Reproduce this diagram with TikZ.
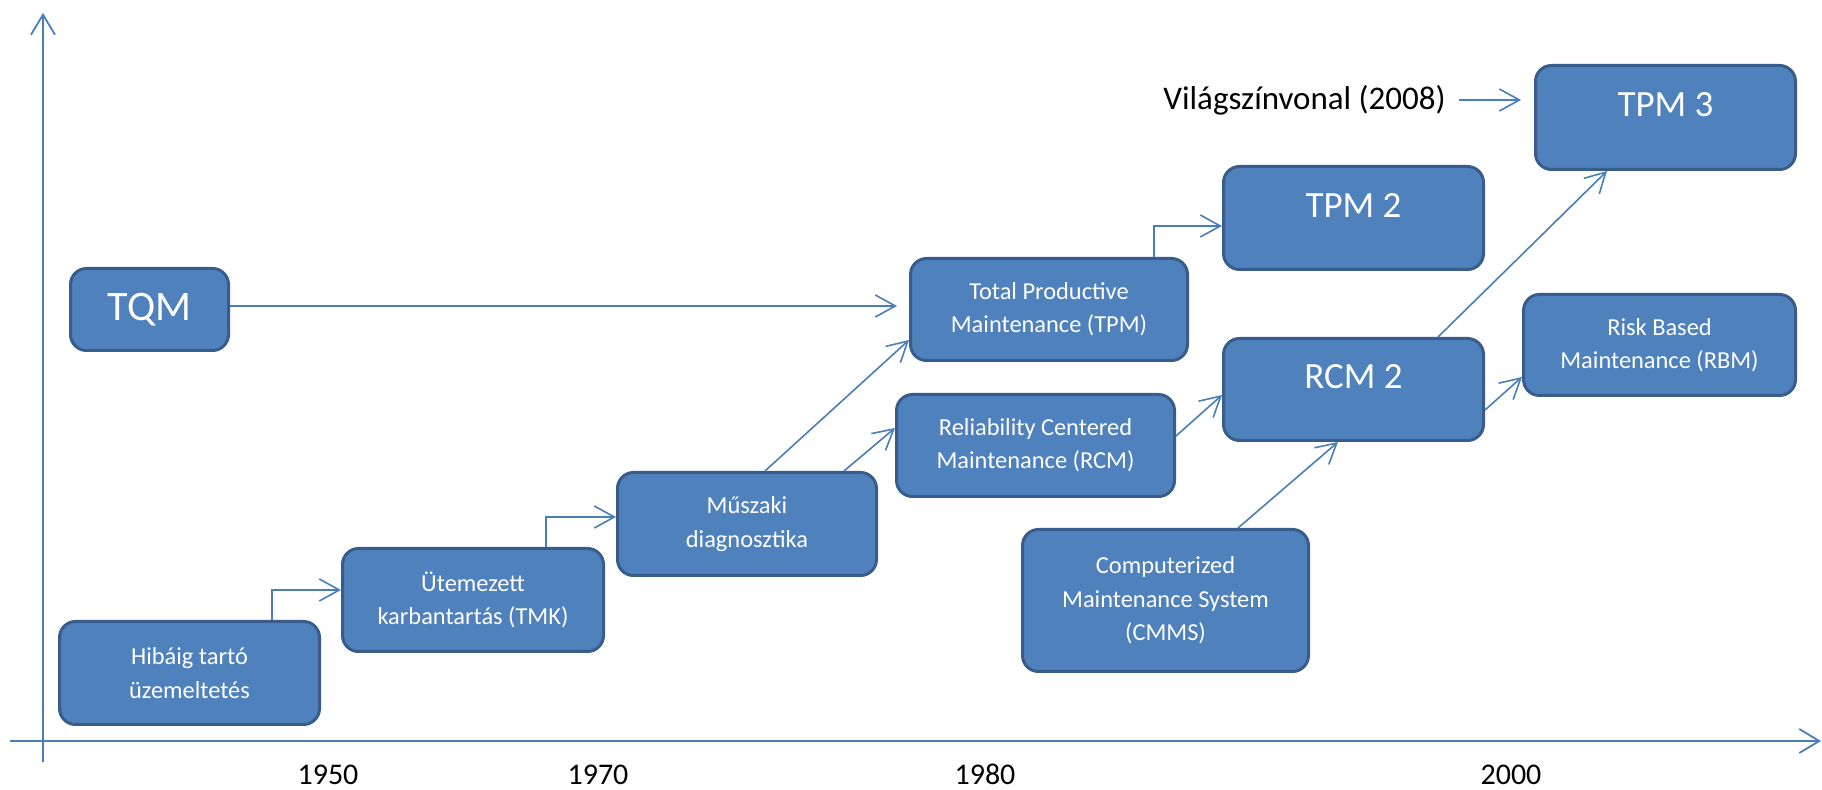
\documentclass[tikz,border=0pt]{standalone}
\usepackage{fontspec}
\setmainfont{Carlito}
\usetikzlibrary{arrows.meta}
\definecolor{boxfill}{HTML}{4F81BD}
\definecolor{boxline}{HTML}{385D8A}
\definecolor{conncol}{HTML}{4A7EBB}
\begin{document}
\begin{tikzpicture}[x=0.5pt,y=-0.5pt,
 box/.style={draw=boxline,fill=boxfill,line width=1.5pt,rounded corners=8pt,text=white,align=center,font=\fontsize{12.2}{16.7}\selectfont,inner sep=0pt},
 bigtxt/.style={text=white,font=\fontsize{18.5}{22}\selectfont,inner sep=0pt},
 conn/.style={draw=conncol,line width=0.8pt,-{Straight Barb[length=10pt,width=11pt,line width=0.8pt]}},
 axis/.style={draw=conncol,line width=1pt,-{Straight Barb[length=10pt,width=12pt,line width=0.9pt]}},
 year/.style={font=\fontsize{15}{18}\selectfont,text=black,inner sep=0pt,anchor=base,text depth=0pt}]
\useasboundingbox[fill=white] (0,0) rectangle (1822,790);

% axes
\coordinate (yb) at (43,762);
\coordinate (yt) at (43,13);
\coordinate (xl) at (10,741);
\coordinate (xr) at (1821,741);
\draw[axis] (yb) -- (yt);
\draw[axis] (xl) -- (xr);

% year labels
\node[year] (y1950) at (328,785) {1950};
\node[year] (y1970) at (598,785) {1970};
\node[year] (y1980) at (985,785) {1980};
\node[year] (y2000) at (1511,785) {2000};

% boxes
\node[box,minimum width=79pt,minimum height=41pt,font=\fontsize{21}{24}\selectfont] (tqm) at (149.5,309.5) {TQM};
\node[box,minimum width=130pt,minimum height=51.5pt] (hib) at (189.5,673) {Hibáig tartó\\üzemeltetés};
\node[box,minimum width=130.5pt,minimum height=51.5pt] (ute) at (473,600) {Ütemezett\\karbantartás (TMK)};
\node[box,minimum width=129.5pt,minimum height=51.5pt] (mus) at (747,524) {Műszaki\\diagnosztika};
\node[box,minimum width=138.5pt,minimum height=51pt] (tpm) at (1049,309.5) {Total Productive\\Maintenance (TPM)};
\node[box,minimum width=139pt,minimum height=51pt] (rcm) at (1035.5,445.5) {Reliability Centered\\Maintenance (RCM)};
\node[box,minimum width=143pt,minimum height=71pt] (cmms) at (1165.5,600.5) {Computerized\\Maintenance System\\(CMMS)};
\node[box,minimum width=130pt,minimum height=51.5pt] (tpm2) at (1353.5,218) {};
\node[bigtxt] (tpm2t) at (1353.5,206) {TPM 2};
\node[box,minimum width=130pt,minimum height=51pt] (rcm2) at (1353.5,389.5) {};
\node[bigtxt] (rcm2t) at (1353.5,377) {RCM 2};
\node[box,minimum width=130pt,minimum height=52pt] (tpm3) at (1665.5,117.5) {};
\node[bigtxt] (tpm3t) at (1665.5,105) {TPM 3};
\node[box,minimum width=136pt,minimum height=50.5pt] (rbm) at (1659.5,345) {Risk Based\\Maintenance (RBM)};

\node[anchor=west,font=\fontsize{16.5}{20}\selectfont,inner sep=0pt] (vil) at (1163,100) {Világszínvonal (2008)};

% connectors
\draw[conn,shorten >=6pt] ([yshift=1.75pt]tqm.east) -- ([yshift=1.75pt]tpm.west);
\draw[conn] ([xshift=41.25pt]hib.north) |- ([yshift=5pt]ute.west);
\draw[conn] ([xshift=36.5pt]ute.north) |- ([yshift=3.5pt]mus.west);
\draw[conn] ([xshift=52.5pt]tpm.north) |- ([yshift=-4pt]tpm2.west);
\draw[conn] ([xshift=9pt]mus.north) -- ([yshift=-15.25pt]tpm.west);
\draw[conn] ([xshift=48.5pt]mus.north) -- ([yshift=8.75pt]rcm.west);
\draw[conn] ([yshift=4.75pt]rcm.east) -- ([yshift=-2.75pt]rcm2.west);
\draw[conn] ([xshift=36.25pt]cmms.north) -- ([xshift=-7.75pt]rcm2.south);
\draw[conn] ([xshift=42.25pt]rcm2.north) -- ([xshift=-29.25pt]tpm3.south);
\draw[conn] ([yshift=-10.25pt]rcm2.east) -- ([yshift=-16pt]rbm.west);
\draw[conn,shorten >=6.5pt] ([xshift=6.5pt]vil.east) -- (vil.east -| tpm3.west);
\end{tikzpicture}
\end{document}
